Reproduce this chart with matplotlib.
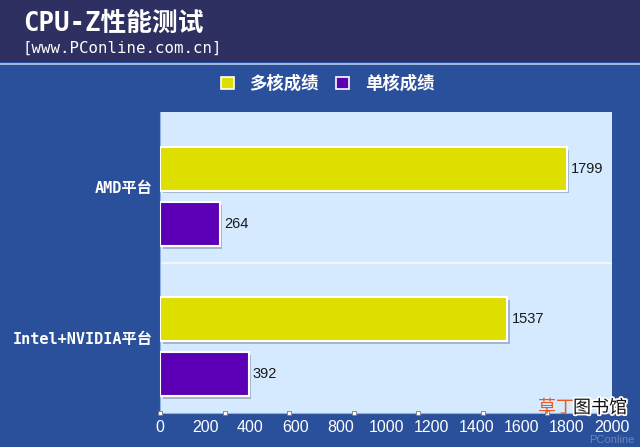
import matplotlib
matplotlib.use("Agg")
import matplotlib.pyplot as plt
import matplotlib.patheffects as pe
from matplotlib.patches import Rectangle, Patch
import numpy as np

categories = ["AMD平台", "Intel+NVIDIA平台"]
multi_core = [1799, 1537]
single_core = [264, 392]
series_names = ["多核成绩", "单核成绩"]
x_ticks = [0, 200, 400, 600, 800, 1000, 1200, 1400, 1600, 1800, 2000]

W, H = 640, 447
fig = plt.figure(figsize=(W / 100, H / 100), dpi=100)
fig.patch.set_facecolor("#2a4f9b")

# title bar
fig.patches.append(Rectangle((0, 1 - 62 / H), 1, 62 / H, transform=fig.transFigure,
                             facecolor="#2f3062", edgecolor="none", zorder=0))
fig.patches.append(Rectangle((0, 1 - 65 / H), 1, 2.5 / H, transform=fig.transFigure,
                             facecolor="#9fb6e0", edgecolor="none", zorder=0))

mono_cjk = ["DejaVu Sans Mono", "Noto Sans CJK SC"]
fig.text(23 / W, 1 - 24 / H, "CPU-Z性能测试", family=mono_cjk, fontsize=18.5,
         color="white", ha="left", va="center", fontweight="bold")
fig.text(23 / W, 1 - 48 / H, "[www.PConline.com.cn]", family=mono_cjk, fontsize=11.3,
         color="white", ha="left", va="center")

ax = fig.add_axes([160 / W, (H - 413) / H, 452 / W, 301 / H])
ax.set_facecolor("#d6eaff")

yellow = "#dede00"
purple = "#5b00b5"
y = np.arange(len(categories))
bh = 0.292
shadow = [pe.SimplePatchShadow(offset=(2, -2), shadow_rgbFace="#8c9cb4", alpha=0.7), pe.Normal()]
b1 = ax.barh(y - 0.123, multi_core, height=bh, color=yellow, edgecolor="white", linewidth=1.5, zorder=3)
b2 = ax.barh(y + 0.243, single_core, height=bh, color=purple, edgecolor="white", linewidth=1.5, zorder=3)
for b in list(b1) + list(b2):
    b.set_path_effects(shadow)
for bars, vals in ((b1, multi_core), (b2, single_core)):
    ax.bar_label(bars, labels=[str(v) for v in vals], padding=3, fontsize=10.5,
                 color="#1a1a1a", family="Liberation Sans")

ax.set_xlim(0, 2000)
ax.set_ylim(1.5, -0.5)
ax.set_yticks(y)
ax.set_yticklabels(categories, family=mono_cjk, fontsize=11, color="white", fontweight="bold")
ax.set_xticks(x_ticks)
ax.set_xticklabels([str(t) for t in x_ticks], family="Liberation Sans", fontsize=11.5, color="white")
ax.tick_params(axis="both", length=0)
ax.tick_params(axis="x", pad=5)
ax.tick_params(axis="y", pad=5)
ax.set_yticks([0.5], minor=True)
ax.tick_params(axis="y", which="minor", length=0)
ax.grid(axis="y", which="minor", color="white", alpha=0.6, linewidth=1.5, zorder=1)
for s in ["top", "right"]:
    ax.spines[s].set_visible(False)
ax.spines["left"].set_color("#8fb0e0")
ax.spines["bottom"].set_color("#8fb0e0")

# small square tick markers along bottom axis
ax.plot(np.linspace(0, 2000, 8), np.zeros(8), "s", transform=ax.get_xaxis_transform(),
        markersize=3.5, markerfacecolor="white", markeredgecolor="#777777",
        markeredgewidth=0.6, clip_on=False, zorder=5)

handles = [Patch(facecolor=yellow, edgecolor="white", linewidth=1.2),
           Patch(facecolor=purple, edgecolor="white", linewidth=1.2)]
leg = fig.legend(handles, series_names, loc="center", bbox_to_anchor=(0.512, 1 - 84 / H),
                 ncol=2, frameon=False,
                 prop={"family": ["Noto Sans CJK SC"], "size": 12.5, "weight": "bold"},
                 handlelength=0.75, handleheight=0.75, handletextpad=0.9, columnspacing=1.0)
for t in leg.get_texts():
    t.set_color("white")

# watermark
fig.text(538 / W, 1 - 408 / H, "草丁", family=["Noto Sans CJK SC"], fontsize=13,
         color="#e85a1e", ha="left", va="center")
fig.text(573 / W, 1 - 408 / H, "图书馆", family=["Noto Sans CJK SC"], fontsize=13,
         color="#111111", ha="left", va="center",
         path_effects=[pe.withStroke(linewidth=2.5, foreground="white")])
fig.text(612 / W, 1 - 440 / H, "PConline", family="Liberation Sans", fontsize=8,
         color="#8a9ac0", alpha=0.7, ha="center", va="center")

fig.savefig("out.png", dpi=100, facecolor=fig.get_facecolor())
